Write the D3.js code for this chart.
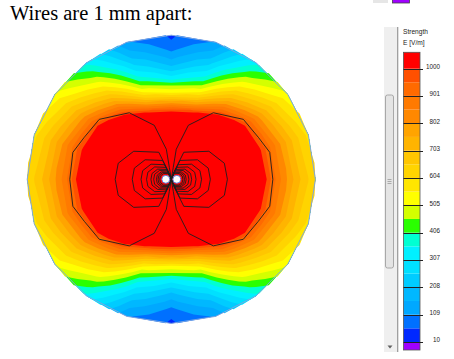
<!DOCTYPE html>
<html><head><meta charset="utf-8">
<script src="https://cdn.jsdelivr.net/npm/d3@7"></script>
<style>html,body{margin:0;padding:0;background:#fff;} svg{display:block;}</style>
</head><body>
<svg id="chart" width="454" height="359"></svg>
<script>
// ---------------- data ----------------
const titleText = "Wires are 1 mm apart:";
const legendTitle = ["Strength", "E [V/m]"];
const legendTicks = [1000, 901, 802, 703, 604, 505, 406, 307, 208, 109, 10];
const bandThresholds = [10, 59.5, 109, 158.5, 208, 257.5, 307, 356.5, 406, 455.5, 505, 554.5, 604, 653.5, 703, 752.5, 802, 851.5, 901, 950.5, 1000];
const bandColors = ["#0028ff","#0070ff","#00a8ff","#00b8ff","#00ccff","#00e0ff","#00f0ff","#00ffd2","#2aff00","#d4ff00","#ffff00","#ffe600","#ffd400","#ffc600","#ffb400","#ffa400","#ff8800","#ff7a00","#ff6a00","#ff5000","#ff0000"];
const belowColor = "#a000ff";
const legendRange = [-19, 1059];

const domainRadius = 13.1;
const spokeAngles = [0, 18, 36, 54, 72, 90];          // degrees, clockwise from top
const ringRadii = [0, 3.93, 5.24, 5.9, 6.55, 7.2, 7.86, 8.52, 9.17, 9.83, 10.48, 11.14, 11.79, 12.45, 13.1]; // mm
// field strength E [V/m] on each spoke, inner ring -> outer ring
const fieldAt0  = [5000, 1700, 1250, 1070,  897,  725,  554,  455,  332,  257,  188,  141,   98,   64,   52];
const fieldAt18 = [5000, 1750, 1300, 1130,  960,  790,  640,  520,  430,  355,  295,  240,  190,  150,  112];
const fieldAt36 = [5000, 1900, 1450, 1300, 1150, 1010,  900,  790,  700,  620,  550,  490,  430,  385,  340];
const fieldAt54 = [5000, 2100, 1650, 1480, 1320, 1190, 1070,  960,  870,  790,  720,  660,  605,  560,  520];
const fieldAt72 = [5000, 2300, 1750, 1550, 1380, 1230, 1100, 1005,  930,  860,  795,  735,  680,  630,  590];
const fieldAt90 = [5000, 2400, 1800, 1580, 1400, 1250, 1120, 1020,  935,  865,  805,  750,  700,  655,  612];

// wires (mm)
const wireX = [-0.5, 0.5];
const wireRadius = 0.36;

// equipotential lines: upper-right quarter of each loop (mm), mirrored to the other quarters
const outerLoopQuarter = [[0,0],[0.18,1.09],[0.45,2.73],[1.55,4.91],[3.82,6.05],[6.55,5.45],[7.91,3.82],[8.95,2.45],[9.23,0]];
const loopTemplate = [[0,0],[0.054,0.143],[0.223,0.482],[0.67,0.5],[0.946,0.286],[1,0]];
const loopReach = [5.1, 3.55, 2.75, 2.25, 1.85, 1.6, 1.35, 1.2, 1.05];

// ---------------- layout ----------------
const svg = d3.select("#chart");
const cx = 171.3, cy = 179.3, Rpx = 144.1;
const xScale = d3.scaleLinear().domain([-domainRadius, domainRadius]).range([cx - Rpx, cx + Rpx]);
const yScale = d3.scaleLinear().domain([-domainRadius, domainRadius]).range([cy + Rpx, cy - Rpx]);

// title
svg.append("text").attr("x", 10).attr("y", 20)
  .attr("font-family", "'Liberation Serif','Times New Roman',serif").attr("font-size", 20.5)
  .attr("fill", "#000").text(titleText);

// ---------------- field grid (polar) ----------------
const fieldBySpoke = [fieldAt0, fieldAt18, fieldAt36, fieldAt54, fieldAt72, fieldAt90];
const nCols = 21, nRows = ringRadii.length;
const colAngles = d3.range(nCols).map(c => c * 18);
function quadrantAngle(a) { a = a % 360; if (a <= 90) return a; if (a <= 180) return 180 - a; if (a <= 270) return a - 180; return 360 - a; }
const grid = new Array(nCols * nRows);
for (let j = 0; j < nRows; j++)
  for (let c = 0; c < nCols; c++)
    grid[j * nCols + c] = fieldBySpoke[spokeAngles.indexOf(quadrantAngle(colAngles[c]))][j];

const contours = d3.contours().size([nCols, nRows]).thresholds(bandThresholds)(grid);
const thetaOfX = d3.scaleLinear().domain([0.5, nCols - 0.5]).range([0, 360]).clamp(true);
const radiusOfY = d3.scaleLinear().domain(ringRadii.map((_, j) => j + 0.5)).range(ringRadii).clamp(true);
const polarProj = d3.geoTransform({
  point(gx, gy) {
    const t = thetaOfX(gx) * Math.PI / 180, r = radiusOfY(gy);
    this.stream.point(xScale(r * Math.sin(t)), yScale(r * Math.cos(t)));
  }
});
const contourPath = d3.geoPath(polarProj);
const colorOf = d3.scaleThreshold().domain(bandThresholds.slice(1)).range(bandColors);

svg.append("g").selectAll("path").data(contours).join("path")
  .attr("d", contourPath)
  .attr("fill", d => colorOf(d.value))
  .attr("stroke", "none");

// outer boundary (20-gon)
const outline = d3.lineRadial()
  .angle(d => d * Math.PI / 180)
  .radius(() => xScale(domainRadius) - xScale(0))
  .curve(d3.curveLinearClosed);
svg.append("path").attr("transform", `translate(${cx},${cy})`)
  .attr("d", outline(colAngles.slice(0, 20)))
  .attr("fill", "none").attr("stroke", "#7ea6e0").attr("stroke-width", 1);

// equipotential lines
const line = d3.line().x(d => xScale(d[0])).y(d => yScale(d[1]));
function fullLoop(quarter, sx) {
  const top = quarter.map(([u, v]) => [sx * u, v]);
  const bottom = quarter.slice().reverse().map(([u, v]) => [sx * u, -v]);
  return top.concat(bottom.slice(1));
}
const quarters = [outerLoopQuarter].concat(loopReach.map(r => loopTemplate.map(([u, v]) => [u * r, v * r])));
const loopsG = svg.append("g").attr("fill", "none").attr("stroke", "#1e1e1e").attr("stroke-width", 0.9).attr("stroke-linejoin", "round");
quarters.forEach(q => {
  [1, -1].forEach(sx => loopsG.append("path").attr("d", line(fullLoop(q, sx))));
});

// wires
svg.append("g").selectAll("circle").data(wireX).join("circle")
  .attr("cx", d => xScale(d)).attr("cy", yScale(0))
  .attr("r", xScale(wireRadius) - xScale(0))
  .attr("fill", "#fff").attr("stroke", "#4a6fd0").attr("stroke-width", 0.9);

// ---------------- right-hand panel ----------------
// cut-off pieces of a previous legend at the very top
svg.append("rect").attr("x", 373).attr("y", -1).attr("width", 15).attr("height", 4).attr("fill", "#e6e6e6");
svg.append("rect").attr("x", 392.5).attr("y", -1).attr("width", 17).attr("height", 4).attr("fill", belowColor).attr("stroke", "#444").attr("stroke-width", 0.8);

// scrollbar
svg.append("rect").attr("x", 384).attr("y", 27).attr("width", 13).attr("height", 325).attr("fill", "#efefef");
svg.append("line").attr("x1", 397.5).attr("x2", 397.5).attr("y1", 27).attr("y2", 352).attr("stroke", "#a0a0a0").attr("stroke-width", 1);
svg.append("line").attr("x1", 398.5).attr("x2", 398.5).attr("y1", 27).attr("y2", 352).attr("stroke", "#e0e0e0").attr("stroke-width", 1);
svg.append("rect").attr("x", 385.5).attr("y", 95).attr("width", 8).attr("height", 173).attr("rx", 2)
  .attr("fill", "#e4e4e4").attr("stroke", "#a8a8a8").attr("stroke-width", 1);
[179.5, 181.5, 183.5].forEach(y => svg.append("line").attr("x1", 387.5).attr("x2", 391.5).attr("y1", y).attr("y2", y).attr("stroke", "#9a9a9a").attr("stroke-width", 0.8));
svg.append("path").attr("d", "M387.5,345.5L392.5,345.5L390,348.5Z").attr("fill", "#606060");

// legend title
const legendFont = "'Liberation Sans',Arial,sans-serif";
svg.append("g").selectAll("text").data(legendTitle).join("text")
  .attr("x", 403).attr("y", (d, i) => 34 + i * 11)
  .attr("font-family", legendFont).attr("font-size", 6.6).attr("fill", "#222").text(d => d);

// legend bar
const yL = d3.scaleLinear().domain(legendRange).range([350, 52.3]);
const legendEdges = [legendRange[0]].concat(bandThresholds, [legendRange[1]]);
const legendCols = [belowColor].concat(bandColors);
svg.append("g").selectAll("rect").data(legendCols).join("rect")
  .attr("x", 403.5).attr("width", 16.5)
  .attr("y", (d, i) => yL(legendEdges[i + 1]))
  .attr("height", (d, i) => yL(legendEdges[i]) - yL(legendEdges[i + 1]))
  .attr("fill", d => d);
svg.append("rect").attr("x", 403.5).attr("y", yL(legendRange[1])).attr("width", 16.5)
  .attr("height", yL(legendRange[0]) - yL(legendRange[1]))
  .attr("fill", "none").attr("stroke", "#555").attr("stroke-width", 0.8);
const tickG = svg.append("g");
tickG.selectAll("line").data(legendTicks).join("line")
  .attr("x1", 403.5).attr("x2", 423).attr("y1", d => Math.round(yL(d)) + 0.5).attr("y2", d => Math.round(yL(d)) + 0.5)
  .attr("stroke", "#222").attr("stroke-width", 1);
tickG.selectAll("text").data(legendTicks).join("text")
  .attr("x", 440).attr("y", d => yL(d) + 0.5).attr("text-anchor", "end")
  .attr("font-family", legendFont).attr("font-size", 6.3).attr("fill", "#222").text(d => d);
</script>
</body></html>
